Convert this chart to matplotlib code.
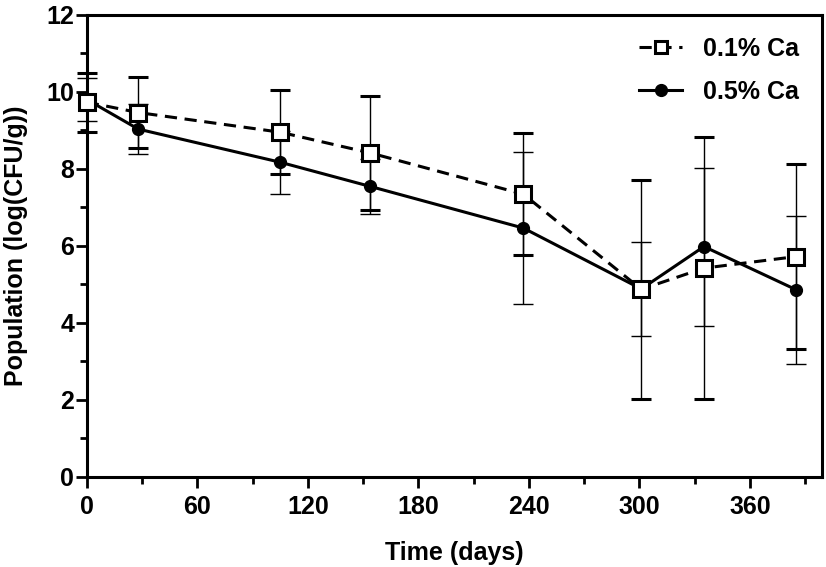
import matplotlib.pyplot as plt
from matplotlib.lines import Line2D
from matplotlib.ticker import MultipleLocator

plt.rcParams['font.family'] = ['Liberation Sans', 'DejaVu Sans']
plt.rcParams['font.weight'] = 'bold'

# sampling days
days = [0, 28, 105, 154, 237, 301, 335, 385]

# 0.1% Ca
ca01 = [9.73, 9.46, 8.95, 8.41, 7.34, 4.87, 5.42, 5.72]
ca01_err = [0.77, 0.93, 1.09, 1.49, 1.59, 2.85, 3.40, 2.40]

# 0.5% Ca
ca05 = [9.80, 9.03, 8.17, 7.54, 6.46, 4.88, 5.98, 4.86]
ca05_err = [0.57, 0.65, 0.82, 0.71, 1.97, 1.21, 2.05, 1.92]

dash = (0, (4, 2.5))

fig = plt.figure(figsize=(8.26, 5.67), dpi=100)
ax = fig.add_axes([0.105, 0.159, 0.89, 0.815])

# circles first so the open squares sit on top
ax.errorbar(days, ca05, yerr=ca05_err, color='black', lw=2.2,
            marker='o', ms=8.5, mfc='black', mec='black',
            ecolor='black', elinewidth=1.0, capsize=7, capthick=1.0,
            clip_on=False, zorder=3)
ax.errorbar(days, ca01, yerr=ca01_err, color='black', lw=2.2,
            ls=dash, marker='s', ms=11, mfc='white',
            mec='black', mew=2.2, ecolor='black', elinewidth=1.0,
            capsize=7, capthick=1.0, clip_on=False, zorder=4)

ax.set_xlim(0, 399)
ax.set_ylim(0, 12)
ax.xaxis.set_major_locator(MultipleLocator(60))
ax.xaxis.set_minor_locator(MultipleLocator(30))
ax.yaxis.set_major_locator(MultipleLocator(2))
ax.yaxis.set_minor_locator(MultipleLocator(1))

for s in ax.spines.values():
    s.set_linewidth(2.2)
ax.tick_params(which='major', length=8, width=2, labelsize=18, direction='out')
ax.tick_params(which='minor', length=5, width=2, direction='out')
ax.tick_params(axis='x', pad=5)
ax.tick_params(axis='y', pad=1)
ax.tick_params(top=False, right=False, which='both')

ax.set_xlabel('Time (days)', fontsize=18, fontweight='bold', labelpad=16)
ax.set_ylabel('Population (log(CFU/g))', fontsize=18, fontweight='bold', labelpad=13)

# legend handles without the error bars
hd01 = Line2D([], [], color='black', lw=2.2, ls=dash, marker='s', ms=9,
              mfc='white', mec='black', mew=2.2)
hd05 = Line2D([], [], color='black', lw=2.2, marker='o', ms=8.5,
              mfc='black', mec='black')
leg = ax.legend([hd01, hd05], ['0.1% Ca', '0.5% Ca'], loc='upper right',
                frameon=False, fontsize=18, handlelength=1.72,
                labelspacing=0.75, borderaxespad=0.5, handletextpad=0.84)
for t in leg.get_texts():
    t.set_fontweight('bold')

fig.savefig('out.png', dpi=100)
